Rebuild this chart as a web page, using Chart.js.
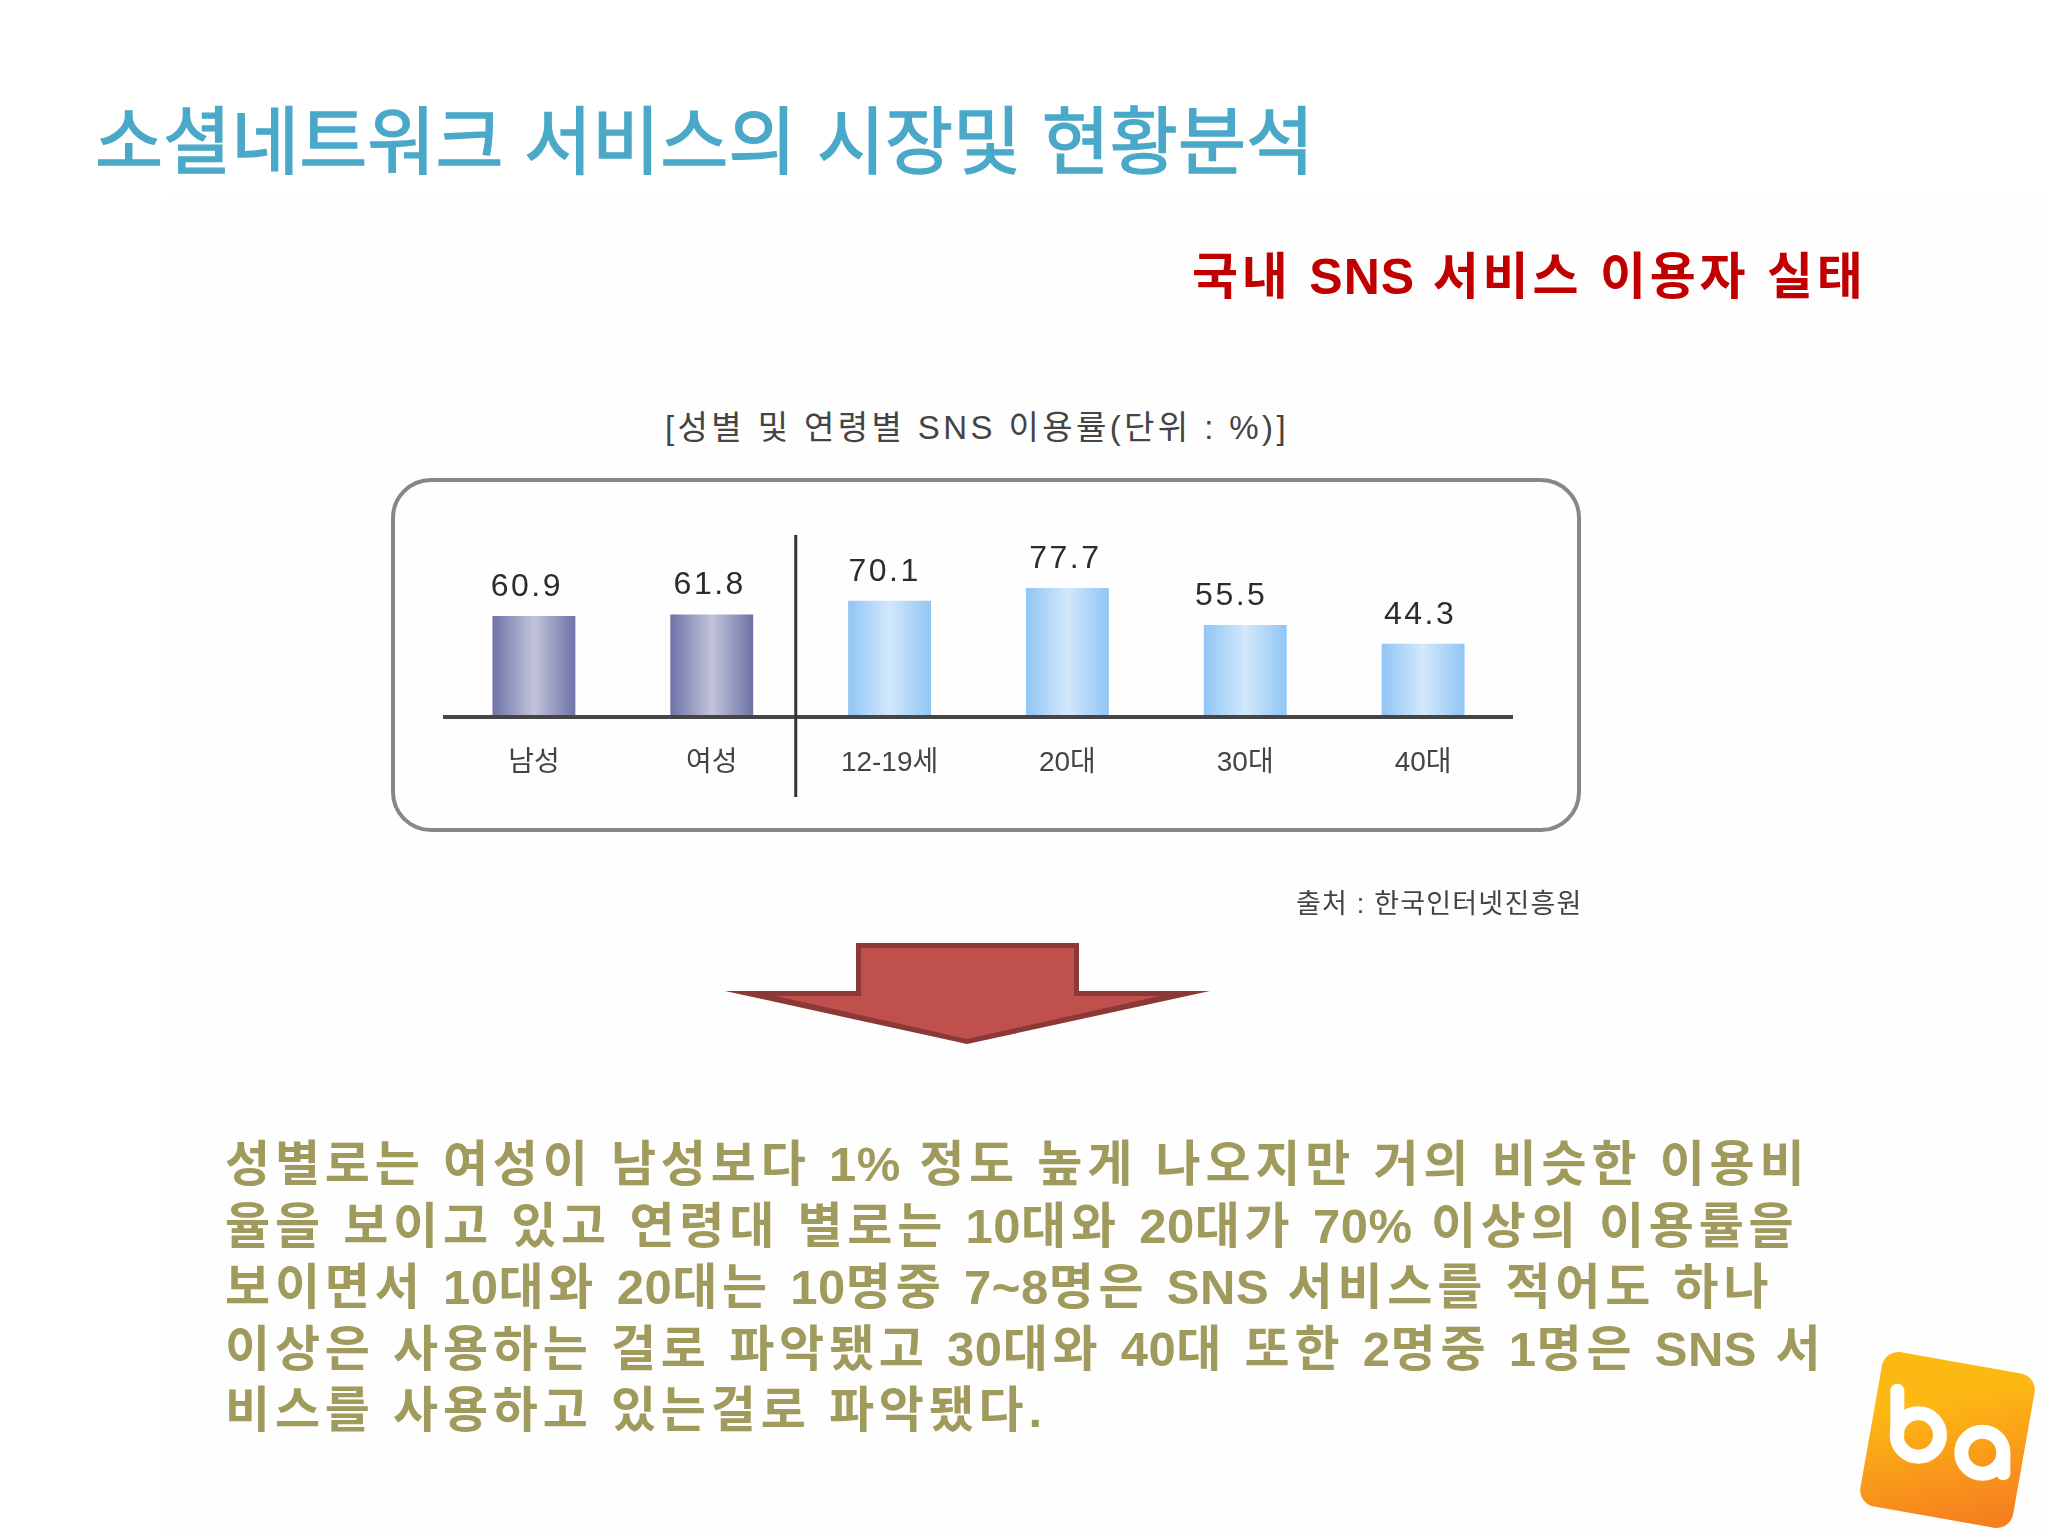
<!DOCTYPE html>
<html lang="ko">
<head>
<meta charset="utf-8">
<title>소셜네트워크 서비스의 시장및 현황분석</title>
<script src="https://cdn.jsdelivr.net/npm/chart.js@4"></script>
<style>
    html, body { margin: 0; padding: 0; background: #fff; }
    #slide { position: relative; width: 2048px; height: 1536px; overflow: hidden;
             font-family: "Liberation Sans", "Noto Sans CJK KR", sans-serif; }
    #slide > * { position: absolute; }
    #panel { left: 165px; top: 196px; width: 1883px; height: 1340px; background: #fefefe; }
    #heading { left: 95px; top: 99px; font-size: 74px; line-height: 88px; color: #4aa8c8; white-space: pre; -webkit-text-stroke: 1.4px #4aa8c8; }
    #subheading { left: 1192px; top: 247px; font-size: 50px; line-height: 60px; letter-spacing: 3.8px; font-weight: bold; color: #c00000; white-space: pre; }
    #subheading span { letter-spacing: 1px; }
    #chartTitle { left: 977px; top: 408px; transform: translateX(-50%); font-size: 33px; line-height: 40px; letter-spacing: 3.4px; color: #444; white-space: pre; }
    #chartBox { left: 391px; top: 478px; width: 1182px; height: 346px; border: 4px solid #88868c; border-radius: 40px; filter: blur(0.6px); }
    #chart { left: 0; top: 0; }
    #source { left: 1296px; top: 887px; font-size: 27px; line-height: 34px; letter-spacing: 1.2px; color: #444; white-space: pre; }
    #summary { left: 225px; top: 1134px; font-size: 49px; line-height: 61.5px; letter-spacing: 4.8px; font-weight: bold; color: #a09a5c; white-space: pre; }
    #summary span { letter-spacing: 0.5px; }
    #arrow { left: 0; top: 0; }
    #logo { left: 1820px; top: 1320px; }
</style>
</head>
<body>
<div id="slide">
    <div id="panel"></div>
    <div id="heading">소셜네트워크 서비스의 시장및 현황분석</div>
    <div id="subheading">국내 <span>SNS</span> 서비스 이용자 실태</div>
    <div id="chartTitle">[성별 및 연령별 SNS 이용률(단위 : %)]</div>
    <div id="chartBox"></div>
    <canvas id="chart" width="2048" height="1536"></canvas>
    <div id="source">출처 : 한국인터넷진흥원</div>
    <svg id="arrow" width="2048" height="1536">
        <polygon points="856,943 1079,943 1079,991 1210,991 967,1044 725,991 856,991" fill="#8c3836"/>
        <polygon points="861,948 1074,948 1074,996 1159,996 967,1039 776,996 861,996" fill="#c0504d"/>
    </svg>
    <div id="summary">성별로는 여성이 남성보다 <span>1%</span> 정도 높게 나오지만 거의 비슷한 이용비
율을 보이고 있고 연령대 별로는 <span>10</span>대와 <span>20</span>대가 <span>70%</span> 이상의 이용률을
보이면서 <span>10</span>대와 <span>20</span>대는 <span>10</span>명중 <span>7~8</span>명은 <span>SNS</span> 서비스를 적어도 하나
이상은 사용하는 걸로 파악됐고 <span>30</span>대와 <span>40</span>대 또한 <span>2</span>명중 <span>1</span>명은 <span>SNS</span> 서
비스를 사용하고 있는걸로 파악됐다.</div>
    <svg id="logo" width="228" height="216" viewBox="0 0 684 648">
        <defs>
            <linearGradient id="logoFill" x1="0.35" y1="0.1" x2="0.7" y2="1">
                <stop offset="0.15" stop-color="#fdb913"/>
                <stop offset="1" stop-color="#f6801f"/>
            </linearGradient>
        </defs>
        <rect x="150" y="125" width="465" height="470" rx="50" fill="url(#logoFill)" transform="rotate(10 383 360)"/>
        <g fill="none" stroke="#fff" stroke-width="42" stroke-linecap="round">
            <path d="M232 212 L232 345"/>
            <circle cx="295" cy="345" r="65"/>
            <circle cx="487" cy="398" r="63"/>
            <path d="M550 398 L550 460"/>
        </g>
    </svg>
</div>

<script>
// Data
const categories = ['남성', '여성', '12-19세', '20대', '30대', '40대'];
const usageRates = [60.9, 61.8, 70.1, 77.7, 55.5, 44.3];
const genderBarCount = 2;

// value labels in the picture don't sit exactly over their bars
const labelShift = [-7, -2, -5, -2, -14, -3];

function barGradient(context) {
    const chart = context.chart;
    const xScale = chart.scales.x;
    const center = xScale ? xScale.getPixelForValue(context.dataIndex) : NaN;
    if (!isFinite(center)) {
        return '#9fd0f7';   // scales aren't laid out yet on the first pass
    }
    const half = 42;
    const gradient = chart.ctx.createLinearGradient(center - half, 0, center + half, 0);
    if (context.dataIndex < genderBarCount) {
        gradient.addColorStop(0, '#6d71a6');
        gradient.addColorStop(0.5, '#c2c4db');
        gradient.addColorStop(1, '#6d71a6');
    } else {
        gradient.addColorStop(0, '#8fc5f4');
        gradient.addColorStop(0.5, '#d2e8fc');
        gradient.addColorStop(1, '#8fc5f4');
    }
    return gradient;
}

const valueLabels = {
    id: 'valueLabels',
    afterDatasetsDraw(chart) {
        const ctx = chart.ctx;
        const bars = chart.getDatasetMeta(0).data;
        ctx.save();
        ctx.font = '32px "Liberation Sans"';
        ctx.letterSpacing = '2.5px';
        ctx.fillStyle = '#2c2c2c';
        ctx.textAlign = 'center';
        ctx.textBaseline = 'middle';
        bars.forEach(function (bar, i) {
            ctx.fillText(usageRates[i].toFixed(1), bar.x + labelShift[i], bar.y - 29);
        });
        ctx.restore();
    }
};

// line between the gender bars and the age bars
const groupDivider = {
    id: 'groupDivider',
    afterDraw(chart) {
        const xScale = chart.scales.x;
        const ctx = chart.ctx;
        const x = xScale.getPixelForValue(genderBarCount - 1) + 84;
        ctx.save();
        ctx.strokeStyle = '#333';
        ctx.lineWidth = 3;
        ctx.beginPath();
        ctx.moveTo(x, 535);
        ctx.lineTo(x, 797);
        ctx.stroke();
        ctx.restore();
    }
};

new Chart(document.getElementById('chart'), {
    type: 'bar',
    data: {
        labels: categories,
        datasets: [{
            data: usageRates,
            backgroundColor: barGradient,
            barPercentage: 0.466,
            categoryPercentage: 1
        }]
    },
    options: {
        responsive: false,
        animation: false,
        devicePixelRatio: 1,
        layout: { padding: { left: 445, right: 536, top: 551, bottom: 735 } },
        plugins: {
            legend: { display: false },
            tooltip: { enabled: false }
        },
        scales: {
            x: {
                grid: { display: false },
                border: { display: true, color: '#454545', width: 4, z: 1 },
                ticks: {
                    color: '#444',
                    font: { family: '"Liberation Sans", "Noto Sans CJK KR"', size: 28 },
                    padding: 21,
                    maxRotation: 0
                }
            },
            y: {
                display: false,
                min: 0,
                max: 100
            }
        }
    },
    plugins: [valueLabels, groupDivider]
});
</script>
</body>
</html>
